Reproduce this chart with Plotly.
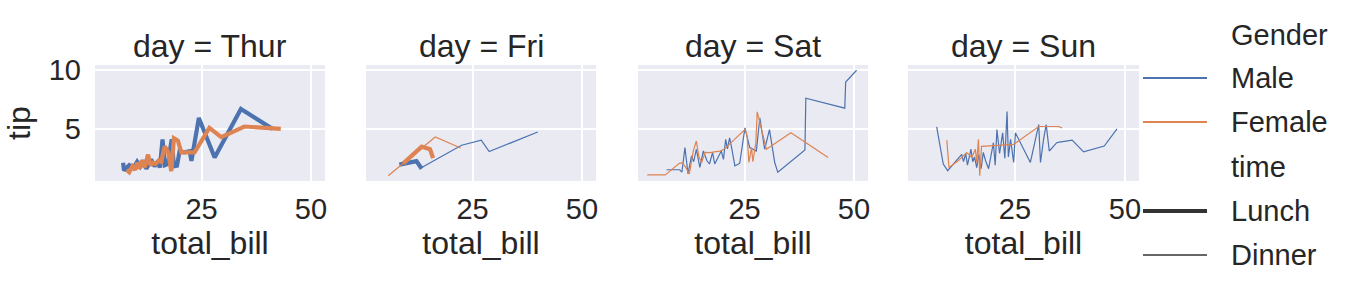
import plotly.graph_objects as go

# ---------------- data ----------------
days = ["Thur", "Fri", "Sat", "Sun"]

thur_male_lunch_bill = [7.1, 7.3, 8.5, 9.5, 10.3, 11.0, 11.7, 12.4, 13.0, 13.5, 14.3, 15.0, 15.5,
                        16.1, 16.6, 17.3, 18.2, 18.7, 19.4, 20.0, 21.0, 22.3, 22.7, 24.4, 28.0, 34.0, 41.2]
thur_male_lunch_tip = [2.1, 1.45, 1.9, 1.7, 2.2, 1.8, 2.3, 1.6, 2.0, 2.4, 1.8, 2.2, 1.7,
                       4.1, 1.9, 2.0, 4.1, 1.8, 1.85, 3.1, 3.0, 3.1, 2.27, 5.93, 2.56, 6.7, 5.0]

thur_female_lunch_bill = [7.9, 8.5, 9.2, 9.8, 10.3, 10.8, 11.4, 12.0, 12.8, 13.3, 13.9, 14.5, 15.2,
                          15.8, 16.6, 17.4, 18.1, 18.7, 19.6, 20.4, 23.4, 26.8, 29.5, 34.8, 43.1]
thur_female_lunch_tip = [1.5, 1.3, 1.8, 1.5, 2.1, 1.6, 2.3, 1.7, 2.8, 1.9, 2.1, 2.0, 2.3,
                         2.2, 3.5, 3.0, 1.4, 4.2, 4.0, 3.0, 3.0, 5.08, 4.3, 5.2, 5.0]

fri_male_lunch_bill = [8.3, 10.3, 12.2, 13.4]
fri_male_lunch_tip = [1.95, 2.1, 2.25, 1.6]
fri_male_dinner_bill = [13.4, 21.7, 22.5, 27.0, 28.8, 39.9]
fri_male_dinner_tip = [1.7, 3.4, 3.6, 4.04, 3.06, 4.73]
fri_female_lunch_bill = [9.2, 13.4, 15.3, 16.0]
fri_female_lunch_tip = [2.05, 3.48, 3.26, 2.5]
fri_female_dinner_bill = [5.75, 16.5, 22.3]
fri_female_dinner_tip = [1.0, 4.3, 3.37]

sat_male_dinner_bill = [7.2, 10.2, 10.7, 11.4, 12.1, 12.9, 13.4, 14.0, 14.8, 15.6, 16.4, 17.0, 17.7,
                        18.2, 19.0, 19.7, 20.2, 20.7, 21.1, 21.6, 22.0, 22.8, 23.9, 25.1, 26.2, 27.7,
                        28.5, 29.6, 30.7, 31.9, 32.6, 38.3, 38.8, 39.0, 47.9, 48.1, 50.6]
sat_male_dinner_tip = [1.51, 1.51, 1.3, 3.4, 1.15, 2.69, 2.2, 3.26, 1.71, 3.11, 2.3, 2.0, 2.98,
                       2.0, 2.6, 3.11, 2.4, 4.1, 3.3, 4.24, 3.5, 1.85, 2.05, 5.08, 3.4, 3.11,
                       5.93, 3.26, 4.94, 2.13, 1.29, 3.11, 3.2, 7.61, 6.77, 9.0, 10.0]
sat_female_dinner_bill = [2.8, 6.9, 10.2, 10.8, 11.6, 12.4, 13.3, 14.0, 14.6, 15.2, 16.0, 17.1, 18.5,
                          19.4, 20.3, 25.1, 25.6, 26.0, 26.6, 26.9, 27.6, 27.9, 30.0, 35.6, 44.1]
sat_female_dinner_tip = [1.07, 1.07, 2.08, 2.1, 1.7, 1.15, 3.1, 3.96, 2.6, 2.13, 3.0, 2.98, 3.05,
                         3.1, 3.25, 4.94, 4.38, 2.13, 3.4, 2.2, 3.82, 6.45, 3.26, 4.67, 2.56]

sun_male_dinner_bill = [7.2, 8.7, 9.7, 10.6, 11.6, 12.9, 13.3, 13.8, 14.2, 15.0, 15.4, 15.8, 16.3,
                        16.8, 17.3, 17.8, 18.3, 19.0, 20.1, 20.5, 20.9, 21.5, 22.2, 22.7, 23.2, 23.5,
                        24.0, 24.7, 25.1, 28.5, 30.4, 30.8, 31.5, 32.1, 32.8, 34.5, 35.1, 38.0,
                        40.6, 45.3, 48.2]
sun_male_dinner_tip = [5.17, 2.0, 1.43, 1.85, 2.3, 2.83, 2.2, 2.9, 1.9, 3.26, 2.2, 2.6, 1.7,
                       2.8, 1.6, 3.0, 2.3, 1.6, 3.82, 1.9, 4.94, 2.9, 4.66, 2.5, 6.48, 2.6,
                       4.1, 2.13, 4.66, 2.13, 5.36, 2.13, 4.1, 5.36, 3.11, 3.82, 3.87, 4.04,
                       3.03, 3.53, 5.0]
sun_female_dinner_bill = [9.5, 10.0, 12.1, 14.0, 15.2, 16.0, 16.3, 16.7, 17.0, 17.4, 24.7, 30.4, 34.9, 35.7]
sun_female_dinner_tip = [4.04, 1.71, 2.27, 2.98, 2.56, 3.26, 2.13, 4.1, 1.01, 3.5, 3.68, 5.2, 5.2, 5.08]

x_ticks = [25, 50]
y_ticks = [5, 10]
x_range = [0.68, 53.2]
y_range = [0.55, 10.45]

# ---------------- style ----------------
FONT = "Liberation Sans, Arial, sans-serif"
TXT = "#262626"
BLUE = "#4C72B0"
ORANGE = "#DD8452"
GRAY = "#333333"
BG = "#EAEAF2"
W_LUNCH = 4.2
W_DINNER = 1.2
TICK_SIZE = 29
LABEL_SIZE = 32

WIDTH, HEIGHT = 1359, 294
ML, MR, MT, MB = 95, 220, 65, 113
PW = WIDTH - ML - MR
PH = HEIGHT - MT - MB


def px_x(px):
    return (px - ML) / PW


def px_y(py):
    return (HEIGHT - MB - py) / PH


panel_px = [(95, 325), (366, 596), (638, 868), (908, 1139)]

series = [
    (0, thur_male_lunch_bill, thur_male_lunch_tip, BLUE, W_LUNCH),
    (0, thur_female_lunch_bill, thur_female_lunch_tip, ORANGE, W_LUNCH),
    (1, fri_male_lunch_bill, fri_male_lunch_tip, BLUE, W_LUNCH),
    (1, fri_male_dinner_bill, fri_male_dinner_tip, BLUE, W_DINNER),
    (1, fri_female_lunch_bill, fri_female_lunch_tip, ORANGE, W_LUNCH),
    (1, fri_female_dinner_bill, fri_female_dinner_tip, ORANGE, W_DINNER),
    (2, sat_male_dinner_bill, sat_male_dinner_tip, BLUE, W_DINNER),
    (2, sat_female_dinner_bill, sat_female_dinner_tip, ORANGE, W_DINNER),
    (3, sun_male_dinner_bill, sun_male_dinner_tip, BLUE, W_DINNER),
    (3, sun_female_dinner_bill, sun_female_dinner_tip, ORANGE, W_DINNER),
]

fig = go.Figure()
for idx, xs, ys, color, width in series:
    suffix = "" if idx == 0 else str(idx + 1)
    fig.add_trace(go.Scatter(
        x=xs, y=ys, mode="lines",
        line=dict(color=color, width=width, shape="linear"),
        xaxis="x" + suffix, yaxis="y" + suffix,
        showlegend=False, hoverinfo="skip",
    ))

layout = dict(
    width=WIDTH, height=HEIGHT,
    margin=dict(l=ML, r=MR, t=MT, b=MB, pad=0),
    paper_bgcolor="white", plot_bgcolor=BG,
    font=dict(family=FONT, color=TXT, size=TICK_SIZE),
    showlegend=False,
)

annotations = []
for i, day in enumerate(days):
    suffix = "" if i == 0 else str(i + 1)
    x0, x1 = panel_px[i]
    layout["xaxis" + suffix] = dict(
        domain=[px_x(x0), px_x(x1)], range=x_range, anchor="y" + suffix,
        tickvals=x_ticks, ticks="", showline=False, zeroline=False,
        showgrid=True, gridcolor="white", gridwidth=1.5,
        tickfont=dict(size=TICK_SIZE, color=TXT, family=FONT),
        ticklabelstandoff=8,
        title=dict(text="total_bill", font=dict(size=LABEL_SIZE, color=TXT, family=FONT), standoff=2),
    )
    ydict = dict(
        domain=[0, 1], range=y_range, anchor="x" + suffix,
        tickvals=y_ticks, ticks="", showline=False, zeroline=False,
        showgrid=True, gridcolor="white", gridwidth=1.5,
        tickfont=dict(size=TICK_SIZE, color=TXT, family=FONT),
    )
    if i == 0:
        ydict["title"] = dict(text="tip", font=dict(size=LABEL_SIZE, color=TXT, family=FONT), standoff=8)
        ydict["ticklabelstandoff"] = 13
    else:
        ydict["matches"] = "y"
        ydict["showticklabels"] = False
    layout["yaxis" + suffix] = ydict
    annotations.append(dict(
        text=f"day = {day}", xref="paper", yref="paper",
        x=(px_x(x0) + px_x(x1)) / 2, y=1, xanchor="center", yanchor="bottom",
        yshift=-1, showarrow=False, font=dict(size=LABEL_SIZE, color=TXT, family=FONT),
    ))

# ---------------- legend (drawn by hand like seaborn's) ----------------
legend_items = [
    ("Gender", None, None, 35),
    ("Male", BLUE, 2.0, 78),
    ("Female", ORANGE, 2.0, 122),
    ("time", None, None, 167),
    ("Lunch", GRAY, W_LUNCH, 211),
    ("Dinner", GRAY, 1.3, 255),
]
shapes = []
for label, color, lw, py in legend_items:
    annotations.append(dict(
        text=label, xref="paper", yref="paper", x=px_x(1229), y=px_y(py),
        xanchor="left", yanchor="middle", showarrow=False,
        font=dict(size=TICK_SIZE, color=TXT, family=FONT),
    ))
    if color is not None:
        shapes.append(dict(
            type="line", xref="paper", yref="paper",
            x0=px_x(1143), x1=px_x(1207), y0=px_y(py), y1=px_y(py),
            line=dict(color=color, width=lw),
        ))

layout["annotations"] = annotations
layout["shapes"] = shapes
fig.update_layout(**layout)

fig.write_html("out.html")
